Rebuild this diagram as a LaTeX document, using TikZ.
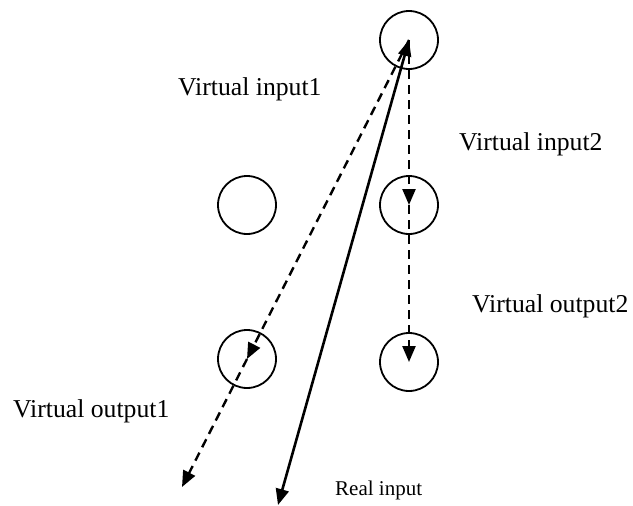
\documentclass[tikz,border=0pt]{standalone}
\usepackage{fontspec}
\setmainfont{Liberation Serif}
\usetikzlibrary{arrows.meta}
\begin{document}
\begin{tikzpicture}[x=1pt, y=-1pt, >={Triangle[length=16pt, width=13pt]}]
\useasboundingbox (0,0) rectangle (633,506);
\tikzset{ring/.style={draw, circle, minimum size=58pt, inner sep=0pt, line width=1.8pt}}
\tikzset{lbl/.style={anchor=base west, inner sep=0pt, font=\fontsize{25.7}{30}\selectfont}}
\tikzset{vflow/.style={->, line width=2.4pt, dash pattern=on 9pt off 6pt}}
\node[ring] (top) at (409,40) {};
\node[ring] (midL) at (247,205) {};
\node[ring] (midR) at (409,205) {};
\node[ring] (lowL) at (247,359) {};
\node[ring] (lowR) at (409,362) {};
\coordinate (vend) at (182,487);
\coordinate (rend) at (278,505);
\node[lbl] (vin1) at (178,95) {Virtual input1};
\node[lbl] (vin2) at (459,150) {Virtual input2};
\node[lbl] (vout2) at (472,312) {Virtual output2};
\node[lbl] (vout1) at (13,417) {Virtual output1};
\node[lbl, font=\fontsize{21}{25}\selectfont] (rin) at (335,495) {Real input};
\draw[vflow] (top.center) -- (midR.center);
\draw[vflow] (midR.center) -- (lowR.center);
\draw[vflow] (top.center) -- (lowL.center);
\draw[vflow] (lowL.center) -- (vend);
\draw[<->, line width=2.6pt] (rend) -- (top.center);
\end{tikzpicture}
\end{document}
